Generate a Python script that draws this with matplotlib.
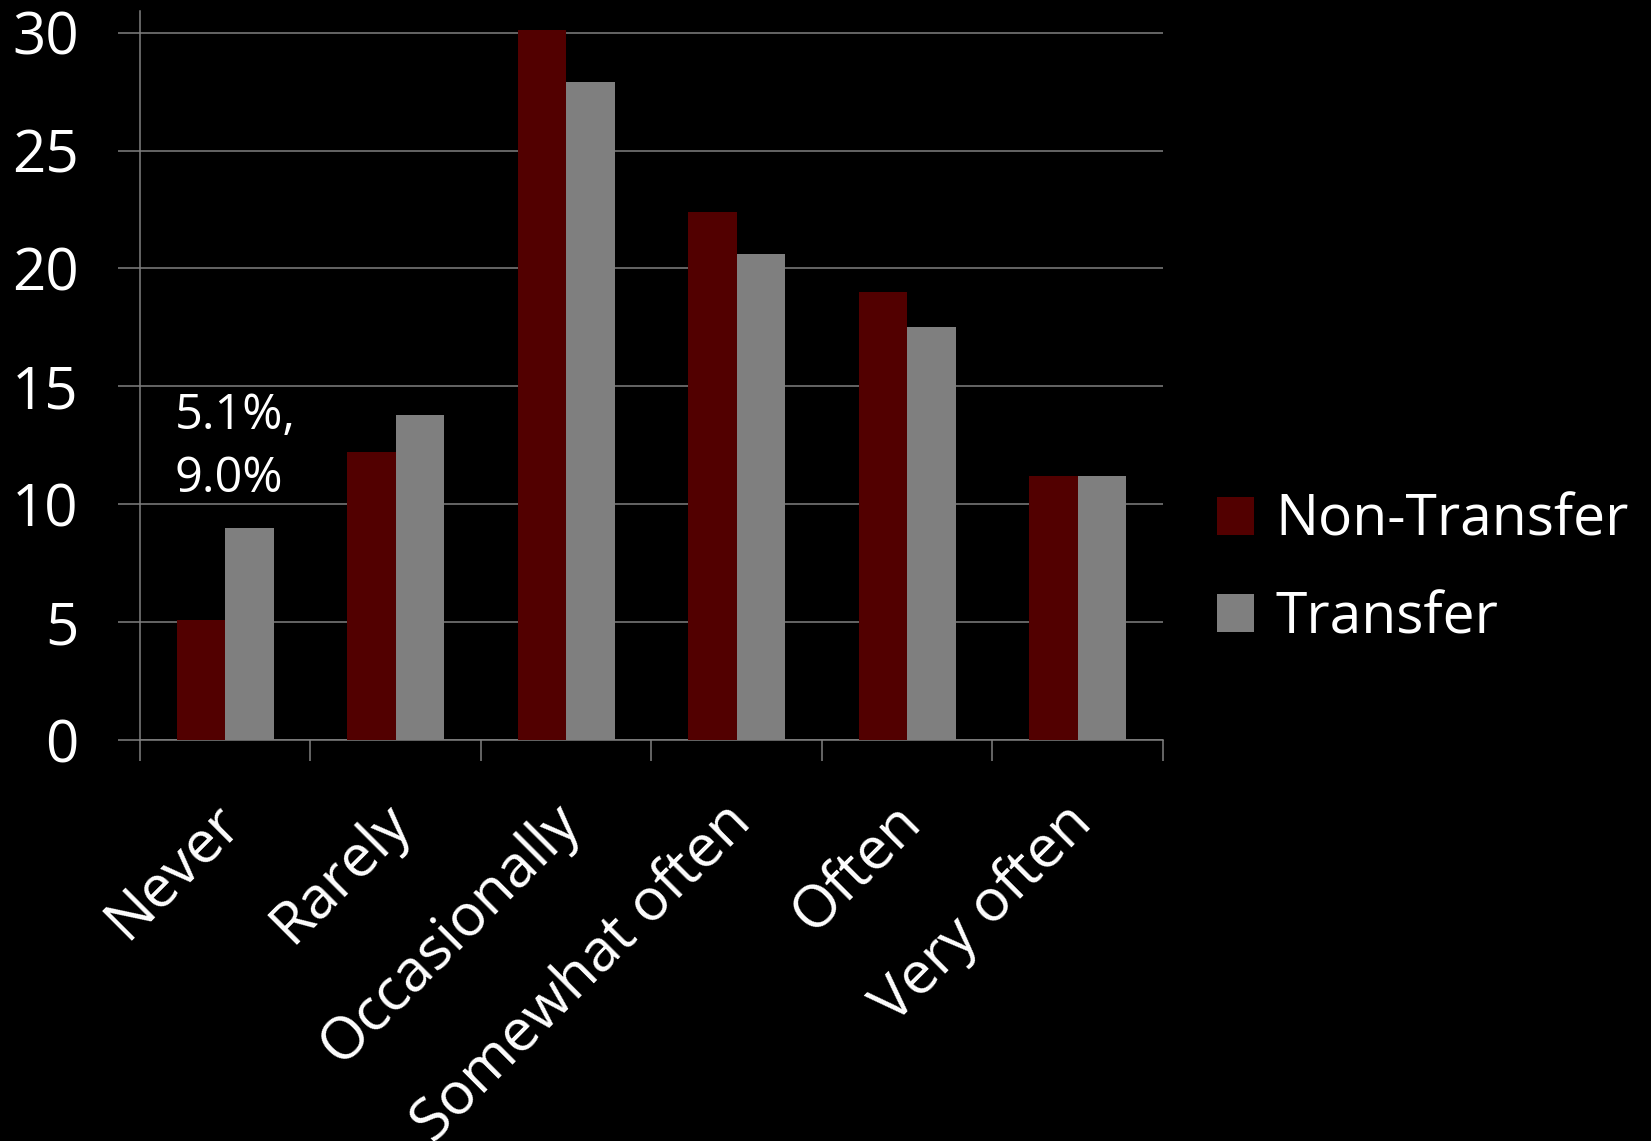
import numpy as np
import matplotlib
matplotlib.use("Agg")
import matplotlib.pyplot as plt
from matplotlib.transforms import ScaledTranslation

categories = ["Never", "Rarely", "Occasionally", "Somewhat often", "Often", "Very often"]
non_transfer = [5.1, 12.2, 30.1, 22.4, 19.0, 11.2]
transfer = [9.0, 13.8, 27.9, 20.6, 17.5, 11.2]
series_names = ["Non-Transfer", "Transfer"]
y_ticks = [0, 5, 10, 15, 20, 25, 30]

RED = "#520000"
GRAY = "#7f7f7f"
LINE = "#808080"

plt.rcParams["font.family"] = ["Open Sans", "DejaVu Sans"]

fig = plt.figure(figsize=(16.51, 11.41), dpi=100, facecolor="black")
ax = fig.add_axes([0.0848, 0.3514, 0.6196, 0.6386], facecolor="black")

x = np.arange(len(categories))
w = 0.284
ax.bar(x - w / 2, non_transfer, w, color=RED, label=series_names[0], zorder=3)
ax.bar(x + w / 2, transfer, w, color=GRAY, label=series_names[1], zorder=3)

ax.set_xlim(-0.5, len(categories) - 0.5)
ax.set_ylim(0, 30.9)

# horizontal gridlines, stopping at 30
ax.set_yticks(y_ticks)
ax.set_yticklabels([str(v) for v in y_ticks], color="white", fontsize=42)
ax.yaxis.grid(True, color=LINE, linewidth=1.1, zorder=0)
ax.tick_params(axis="y", length=16, width=1.1, color=LINE, pad=28)

# category labels at centres, tick marks at category boundaries
ax.set_xticks(x)
ax.set_xticklabels(categories, rotation=45, ha="right", rotation_mode="anchor",
                   color="white", fontsize=42.5)
ax.tick_params(axis="x", which="major", length=0, pad=38)
ax.set_xticks(np.arange(-0.5, len(categories), 1.0), minor=True)
ax.tick_params(axis="x", which="minor", length=15, width=1.1, color=LINE)
shift = ScaledTranslation(-0.15, 0.0, fig.dpi_scale_trans)
for lab in ax.get_xticklabels():
    lab.set_transform(lab.get_transform() + shift)

for side in ["top", "right"]:
    ax.spines[side].set_visible(False)
for side in ["left", "bottom"]:
    ax.spines[side].set_color(LINE)
    ax.spines[side].set_linewidth(1.1)

ax.text(-0.295, 14.8, "5.1%,\n9.0%", color="white", fontsize=35,
        va="top", ha="left", linespacing=1.36)

leg = fig.legend(loc="center left", bbox_to_anchor=(1217 / 1651, 0.5003),
                 frameon=False, fontsize=41, handlelength=0.65, handleheight=0.65,
                 handletextpad=0.37, labelspacing=0.71, borderpad=0, borderaxespad=0,
                 labelcolor="white")

fig.savefig("out.png", dpi=100, facecolor="black")
